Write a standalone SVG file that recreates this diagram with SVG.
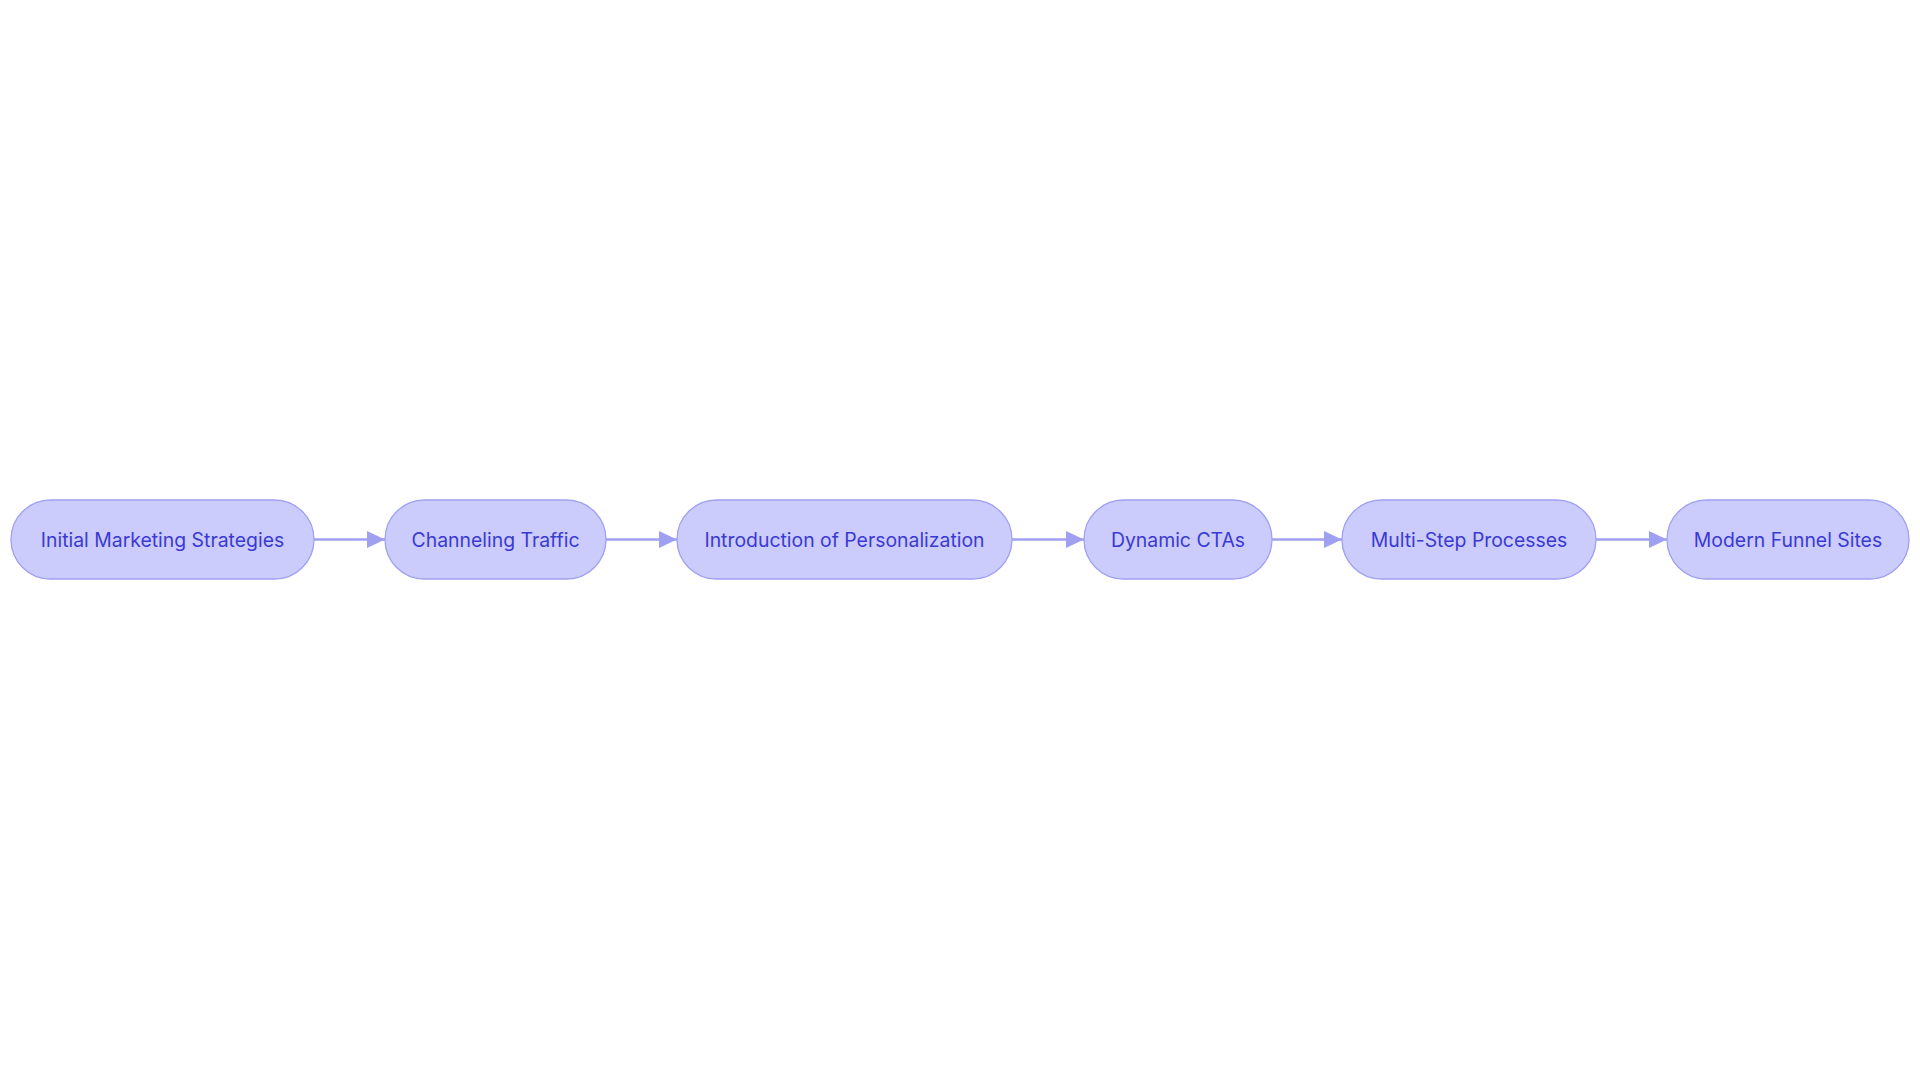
<svg xmlns="http://www.w3.org/2000/svg" width="1920" height="1083" viewBox="0 0 1920 1083">
<style>
  .node rect { fill: #CBCBFC; stroke: #A0A0F2; stroke-width: 1.3; }
  .node text { font-family: Inter, "Noto Sans", "Liberation Sans", sans-serif; font-size: 19.4px; fill: #3A3AD2; text-anchor: middle; dominant-baseline: central; }
  .edge { stroke: #A0A0F3; stroke-width: 2.6; fill: none; }
</style>
<defs>
  <marker id="arrow" viewBox="0 0 18 17" refX="18" refY="8.5" markerWidth="18" markerHeight="17" markerUnits="userSpaceOnUse" orient="auto">
    <path d="M0,0 L18,8.5 L0,17 Z" fill="#A0A0F3"/>
  </marker>
</defs>
<rect width="1920" height="1083" fill="#FFFFFF"/>
<g id="connectors">
  <line class="edge" x1="314" y1="539.5" x2="385" y2="539.5" marker-end="url(#arrow)"/>
  <line class="edge" x1="606" y1="539.5" x2="677" y2="539.5" marker-end="url(#arrow)"/>
  <line class="edge" x1="1012" y1="539.5" x2="1084" y2="539.5" marker-end="url(#arrow)"/>
  <line class="edge" x1="1272" y1="539.5" x2="1342" y2="539.5" marker-end="url(#arrow)"/>
  <line class="edge" x1="1596" y1="539.5" x2="1667" y2="539.5" marker-end="url(#arrow)"/>
</g>
<g id="node1" class="node">
  <rect x="11" y="500" width="303" height="79" rx="39.5" ry="39.5"/>
  <text x="162.5" y="539.5">Initial Marketing Strategies</text>
</g>
<g id="node2" class="node">
  <rect x="385" y="500" width="221" height="79" rx="39.5" ry="39.5"/>
  <text x="495.5" y="539.5">Channeling Traffic</text>
</g>
<g id="node3" class="node">
  <rect x="677" y="500" width="335" height="79" rx="39.5" ry="39.5"/>
  <text x="844.5" y="539.5">Introduction of Personalization</text>
</g>
<g id="node4" class="node">
  <rect x="1084" y="500" width="188" height="79" rx="39.5" ry="39.5"/>
  <text x="1178" y="539.5">Dynamic CTAs</text>
</g>
<g id="node5" class="node">
  <rect x="1342" y="500" width="254" height="79" rx="39.5" ry="39.5"/>
  <text x="1469" y="539.5">Multi-Step Processes</text>
</g>
<g id="node6" class="node">
  <rect x="1667" y="500" width="242" height="79" rx="39.5" ry="39.5"/>
  <text x="1788" y="539.5">Modern Funnel Sites</text>
</g>
</svg>
